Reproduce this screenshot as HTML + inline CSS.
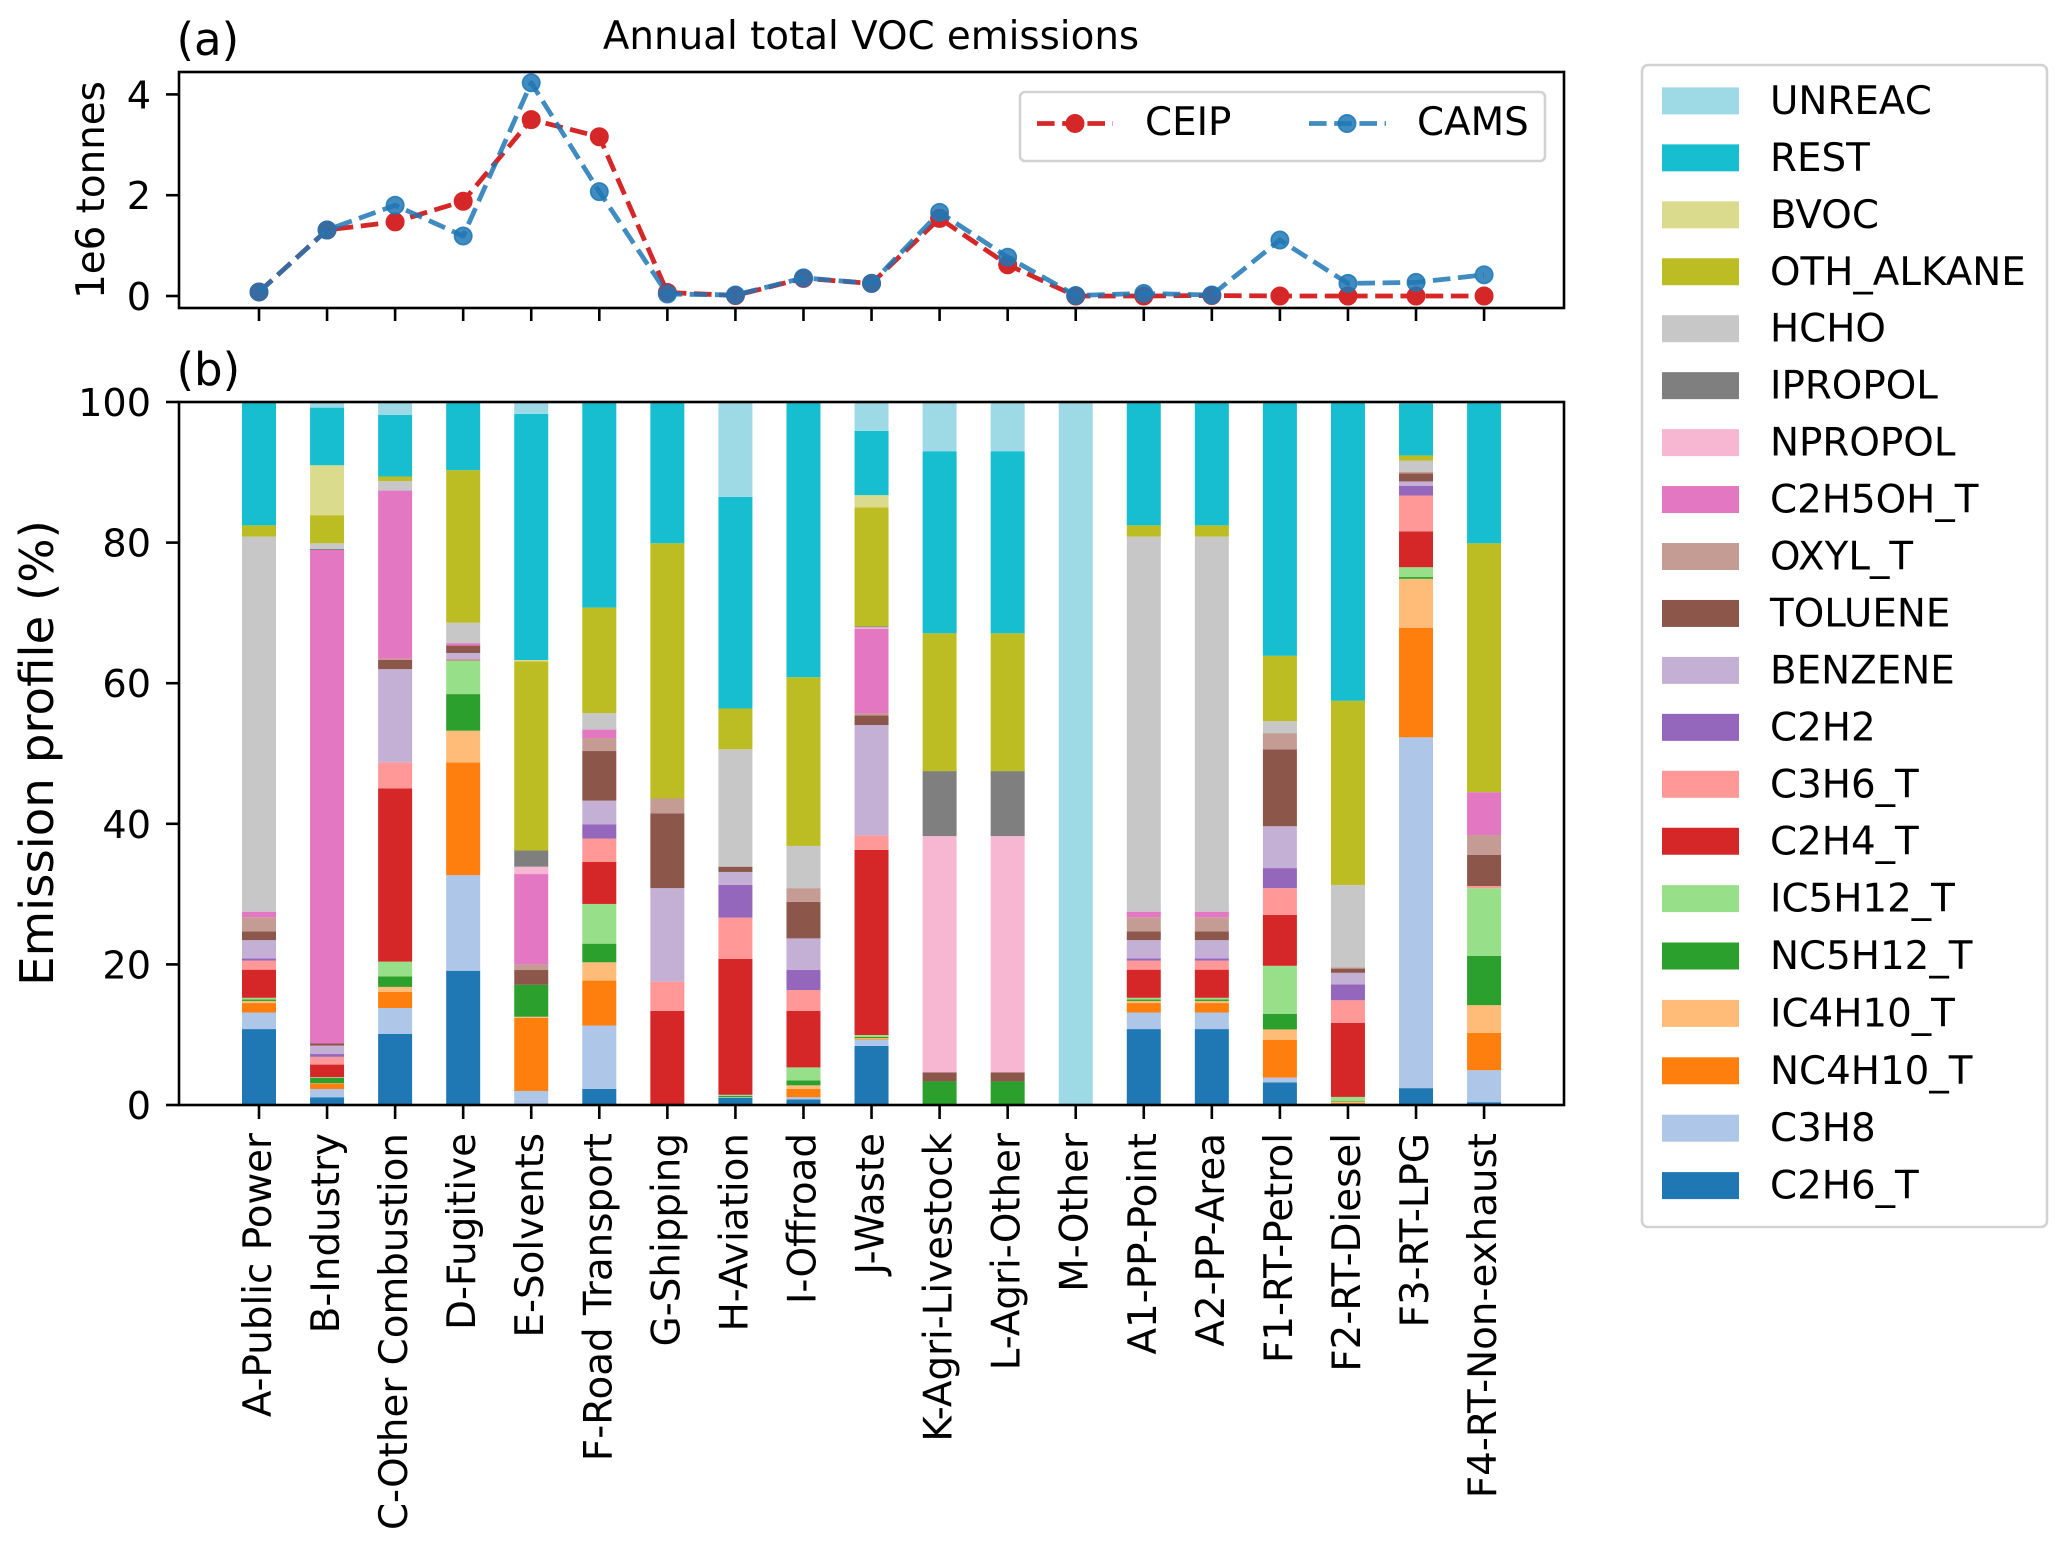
<!DOCTYPE html>
<html lang="en">
<head>
<meta charset="utf-8">
<title>Annual total VOC emissions and emission profiles</title>
<style>
html,body{margin:0;padding:0;background:#fff;width:2067px;height:1545px;overflow:hidden}
svg{display:block}
text{font-family:"DejaVu Sans","Liberation Sans",sans-serif;fill:#000}
</style>
</head>
<body>
<svg id="chart" xmlns="http://www.w3.org/2000/svg" width="2067" height="1545" viewBox="0 0 2067 1545">
  <rect x="0" y="0" width="2067" height="1545" fill="#fff"/>
  <g id="bars"></g>
  <g id="lines"></g>
  <g id="ticks"></g>
  <rect x="179" y="72" width="1385" height="236" fill="none" stroke="#000" stroke-width="2.6"/>
  <rect x="179" y="402" width="1385" height="703" fill="none" stroke="#000" stroke-width="2.6"/>
  <text x="176.5" y="55" font-size="45">(a)</text>
  <text x="176.5" y="385" font-size="45">(b)</text>
  <text x="871" y="49" font-size="38.8" text-anchor="middle">Annual total VOC emissions</text>
  <text transform="translate(104,190) rotate(-90)" font-size="38.8" text-anchor="middle">1e6 tonnes</text>
  <text transform="translate(53,753) rotate(-90)" font-size="46.7" text-anchor="middle">Emission profile (%)</text>
  <g>
    <rect x="1020" y="92" width="525" height="69" rx="5" fill="#fff" fill-opacity="0.9" stroke="#d2d2d2" stroke-width="2.6"/>
    <line x1="1037" y1="123.5" x2="1113" y2="123.5" stroke="#d62728" stroke-width="4.76" stroke-dasharray="17.6 7.6"/>
    <circle cx="1075" cy="123.5" r="9.5" fill="#d62728"/>
    <text x="1145" y="135" font-size="38.8">CEIP</text>
    <g>
      <line x1="1309" y1="123.5" x2="1386" y2="123.5" stroke="#1f77b4" stroke-opacity="0.85" stroke-width="4.76" stroke-dasharray="17.6 7.6"/>
      <circle cx="1347" cy="123.5" r="8.7" fill="#1f77b4" fill-opacity="0.85" stroke="#1f77b4" stroke-opacity="0.85" stroke-width="1.6"/>
    </g>
    <text x="1417" y="135" font-size="38.8">CAMS</text>
  </g>
  <g id="legend">
    <rect x="1642" y="65" width="405" height="1162" rx="6" fill="#fff" stroke="#d2d2d2" stroke-width="2.6"/>
  </g>
</svg>
<script>
const categories = ["A-Public Power","B-Industry","C-Other Combustion","D-Fugitive","E-Solvents","F-Road Transport","G-Shipping","H-Aviation","I-Offroad","J-Waste","K-Agri-Livestock","L-Agri-Other","M-Other","A1-PP-Point","A2-PP-Area","F1-RT-Petrol","F2-RT-Diesel","F3-RT-LPG","F4-RT-Non-exhaust"];

const ceipValues = [0.08,1.31,1.47,1.88,3.50,3.16,0.07,0.01,0.35,0.25,1.54,0.62,0.00,0.00,0.01,0.00,0.00,0.00,0.00];
const camsValues = [0.08,1.31,1.80,1.19,4.23,2.07,0.04,0.02,0.36,0.25,1.66,0.77,0.01,0.05,0.02,1.11,0.25,0.27,0.42];

const C2H6_T    = [10.8,1.1,10.1,19.1,0,2.3,0,1.0,0.8,8.4,0,0,0,10.8,10.8,3.2,0.05,2.4,0.4];
const C3H8      = [2.35,1.17,3.7,13.6,2.0,9,0,0.1,0.3,0.85,0,0,0,2.35,2.35,0.7,0.15,49.9,4.55];
const NC4H10_T  = [1.35,0.78,2.3,16.05,10.4,6.4,0,0,1.2,0.1,0,0,0,1.35,1.35,5.35,0.1,15.55,5.3];
const IC4H10_T  = [0.3,0.05,0.7,4.5,0.15,2.6,0,0,0.5,0.15,0,0,0,0.3,0.3,1.5,0.2,7,3.95];
const NC5H12_T  = [0.2,0.75,1.5,5.2,4.55,2.65,0,0.2,0.7,0.2,3.35,3.35,0,0.2,0.2,2.2,0.1,0.25,7];
const IC5H12_T  = [0.25,0.1,2.1,4.8,0,5.65,0,0.15,1.85,0.25,0,0,0,0.25,0.25,6.85,0.55,1.4,9.65];
const C2H4_T    = [4,1.8,24.65,0.1,0,6,13.4,19.35,8.05,26.35,0,0,0,4,4,7.25,10.55,5.1,0];
const C3H6_T    = [1.3,1.1,3.7,0,0,3.3,4.15,5.85,2.95,2.05,0,0,0,1.3,1.3,3.8,3.2,5.1,0.3];
const C2H2      = [0.3,0.4,0,0,0,2,0,4.65,2.85,0,0,0,0,0.3,0.3,2.85,2.25,1.35,0];
const BENZENE   = [2.6,1.2,13.25,0.95,0,3.4,13.3,1.85,4.5,15.7,0,0,0,2.6,2.6,5.95,1.65,0.65,0];
const TOLUENE   = [1.25,0.3,1.3,1.05,2.1,7.05,10.65,0.75,5.2,1.35,1.3,1.3,0,1.25,1.25,10.95,0.6,1.15,4.45];
const OXYL_T    = [2,0,0.2,0,0.8,1.85,2.1,0,1.95,0.3,0,0,0,2,2,2.3,0.2,0.2,2.8];
const C2H5OH_T  = [0.8,70.2,23.9,0.35,12.85,1.2,0,0,0,12.05,0,0,0,0.8,0.8,0,0,0,6.1];
const NPROPOL   = [0,0,0,0,1.05,0,0,0,0,0.2,33.6,33.6,0,0,0,0,0,0,0];
const IPROPOL   = [0,0.15,0,0,2.3,0,0,0,0,0.15,9.25,9.25,0,0,0,0,0,0,0];
const HCHO      = [53.35,0.8,1.35,2.9,0,2.35,0,16.7,6,0,0,0,0,53.35,53.35,1.7,11.7,1.6,0];
const OTH_ALKANE= [1.6,4,0.65,21.7,26.9,15,36.3,5.8,24,16.9,19.6,19.6,0,1.6,1.6,9.3,26.2,0.75,35.4];
const BVOC      = [0,7.1,0,0,0.2,0,0,0,0,1.75,0,0,0,0,0,0,0,0,0];
const REST      = [17.6,8.2,8.75,9.8,35.0,29.25,20.1,30.1,39.15,9.15,25.9,25.9,0,17.6,17.6,36.1,42.5,7.4,20.1];
const UNREAC    = [0,0.8,1.85,0,1.7,0,0,13.5,0,4.1,7,7,100,0,0,0,0,0,0];

const speciesNames = ["C2H6_T","C3H8","NC4H10_T","IC4H10_T","NC5H12_T","IC5H12_T","C2H4_T","C3H6_T","C2H2","BENZENE","TOLUENE","OXYL_T","C2H5OH_T","NPROPOL","IPROPOL","HCHO","OTH_ALKANE","BVOC","REST","UNREAC"];
const speciesValues = [C2H6_T,C3H8,NC4H10_T,IC4H10_T,NC5H12_T,IC5H12_T,C2H4_T,C3H6_T,C2H2,BENZENE,TOLUENE,OXYL_T,C2H5OH_T,NPROPOL,IPROPOL,HCHO,OTH_ALKANE,BVOC,REST,UNREAC];
const speciesColors = ["#1f77b4","#aec7e8","#ff7f0e","#ffbb78","#2ca02c","#98df8a","#d62728","#ff9896","#9467bd","#c5b0d5","#8c564b","#c49c94","#e377c2","#f7b6d2","#7f7f7f","#c7c7c7","#bcbd22","#dbdb8d","#17becf","#9edae5"];

const panelATickLabels = [0,2,4];
const panelBTickLabels = [0,20,40,60,80,100];

const NS = "http://www.w3.org/2000/svg";
const xScale = function (i) { return 259 + i * 68.06; };
const yLine = function (v) { return 296 - v * 50.4; };
const yBar = function (v) { return 1105 - v * 7.03; };
const legendRowY = function (row) { return row <= 13 ? 100.9 + row * 56.95 : 841.2 + (row - 13) * 57.4; };
const barWidth = 34;

function make(tag, attrs, parent) {
  const el = document.createElementNS(NS, tag);
  for (const k in attrs) el.setAttribute(k, attrs[k]);
  parent.appendChild(el);
  return el;
}

const barsGroup = document.getElementById("bars");
categories.forEach(function (cat, i) {
  let base = 0;
  speciesValues.forEach(function (vals, s) {
    const v = vals[i];
    if (v > 0) {
      const seg = make("rect", {x: xScale(i) - barWidth / 2, y: yBar(base + v), width: barWidth, height: yBar(base) - yBar(base + v), fill: speciesColors[s]}, barsGroup);
      
      
    }
    base += v;
  });
});

function drawSeries(values, color, opacity, name) {
  const group = make("g", {}, document.getElementById("lines"));
  
  
  const pts = values.map(function (v, i) { return xScale(i) + "," + yLine(v); }).join(" ");
  const line = make("polyline", {points: pts, fill: "none", stroke: color, "stroke-opacity": opacity, "stroke-width": 4.76, "stroke-dasharray": "17.6 7.6", "stroke-linejoin": "round"}, group);
  
  
  values.forEach(function (v, i) {
    const dot = make("circle", {cx: xScale(i), cy: yLine(v), r: 8.7, fill: color, "fill-opacity": opacity, stroke: color, "stroke-opacity": opacity, "stroke-width": 1.6}, group);
    
    
  });
}
drawSeries(ceipValues, "#d62728", 1, "ceip-series");
drawSeries(camsValues, "#1f77b4", 0.85, "cams-series");

const ticksGroup = document.getElementById("ticks");
categories.forEach(function (cat, i) {
  const t1 = make("line", {x1: xScale(i), x2: xScale(i), y1: 308, y2: 321, stroke: "#000", "stroke-width": 2.6}, ticksGroup);
  
  
  const t2 = make("line", {x1: xScale(i), x2: xScale(i), y1: 1105, y2: 1119, stroke: "#000", "stroke-width": 2.6}, ticksGroup);
  
  
  const lab = make("text", {transform: "translate(" + (xScale(i) + 12) + ",1133) rotate(-90)", "font-size": 38.8, "text-anchor": "end"}, ticksGroup);
  lab.textContent = cat;
  
  
});
panelATickLabels.forEach(function (v) {
  const t = make("line", {x1: 166, x2: 179, y1: yLine(v), y2: yLine(v), stroke: "#000", "stroke-width": 2.6}, ticksGroup);
  
  
  const lab = make("text", {x: 151, y: yLine(v) + 14, "font-size": 38.2, "text-anchor": "end"}, ticksGroup);
  lab.textContent = v;
  
  
});
panelBTickLabels.forEach(function (v) {
  const t = make("line", {x1: 166, x2: 179, y1: yBar(v), y2: yBar(v), stroke: "#000", "stroke-width": 2.6}, ticksGroup);
  
  
  const lab = make("text", {x: 151, y: yBar(v) + 14, "font-size": 38.2, "text-anchor": "end"}, ticksGroup);
  lab.textContent = v;
  
  
});

const legendGroup = document.getElementById("legend");
for (let s = speciesNames.length - 1, row = 0; s >= 0; s--, row++) {
  const cy = legendRowY(row);
  const sw = make("rect", {x: 1662, y: cy - 13.5, width: 77, height: 27, fill: speciesColors[s]}, legendGroup);
  
  
  const tx = make("text", {x: 1770, y: cy + 13, "font-size": 38.8}, legendGroup);
  tx.textContent = speciesNames[s];
  
  
}
</script>
</body>
</html>
